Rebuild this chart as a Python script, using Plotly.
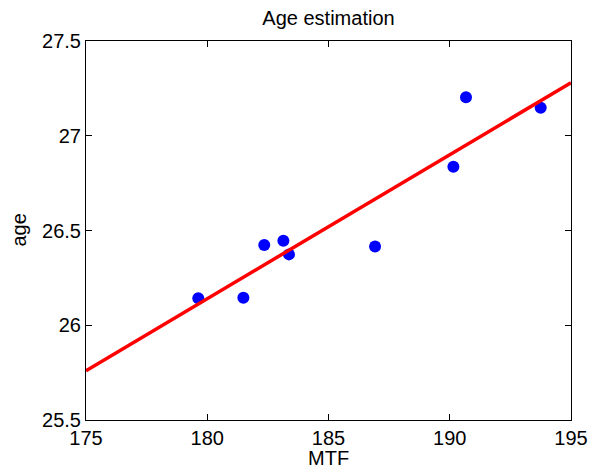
import plotly.graph_objects as go

mtf = [179.63, 181.49, 182.35, 183.14, 183.37, 186.92, 190.15, 190.67, 193.75]
age = [26.142, 26.145, 26.423, 26.446, 26.374, 26.415, 26.837, 27.203, 27.148]
fit_x = [175, 195]
fit_y = [25.76, 27.28]
x_ticks = [175, 180, 185, 190, 195]
y_ticks = [25.5, 26, 26.5, 27, 27.5]

FONT = "Liberation Sans, Arial, sans-serif"

fig = go.Figure()
fig.add_trace(go.Scatter(x=mtf, y=age, mode="markers",
                         marker=dict(color="#0000ff", size=12, line=dict(width=0)),
                         showlegend=False))
fig.add_trace(go.Scatter(x=fit_x, y=fit_y, mode="lines",
                         line=dict(color="#ff0000", width=3.5),
                         showlegend=False))

axis_common = dict(showgrid=False, zeroline=False, showline=True, linecolor="black",
                   linewidth=1, mirror="ticks", ticks="inside", ticklen=6,
                   tickcolor="black", automargin=False,
                   tickfont=dict(family=FONT, size=20, color="black"))

# the page body adds an 8px offset, so the figure is sized to fit inside
fig.update_layout(
    width=588, height=463,
    margin=dict(l=78, r=25, t=33, b=51),
    paper_bgcolor="white", plot_bgcolor="white",
    title=dict(text="Age estimation", x=0.5, xref="paper", xanchor="center",
               y=1, yref="container", yanchor="top", pad=dict(t=3),
               font=dict(family=FONT, size=20, color="black")),
    xaxis=dict(range=[175, 195], tickvals=x_ticks, ticktext=[str(v) for v in x_ticks],
               **axis_common),
    yaxis=dict(range=[25.5, 27.5], tickvals=y_ticks, ticktext=[str(v) for v in y_ticks],
               **axis_common),
    annotations=[
        dict(text="MTF", x=0.5, xref="paper", y=0, yref="paper", xanchor="center",
             yanchor="top", yshift=-25, showarrow=False,
             font=dict(family=FONT, size=20, color="black")),
        dict(text="age", x=0, xref="paper", y=0.5, yref="paper", xanchor="right",
             yanchor="middle", xshift=-55, textangle=-90, showarrow=False,
             font=dict(family=FONT, size=20, color="black")),
    ],
)

fig.write_html("out.html")
